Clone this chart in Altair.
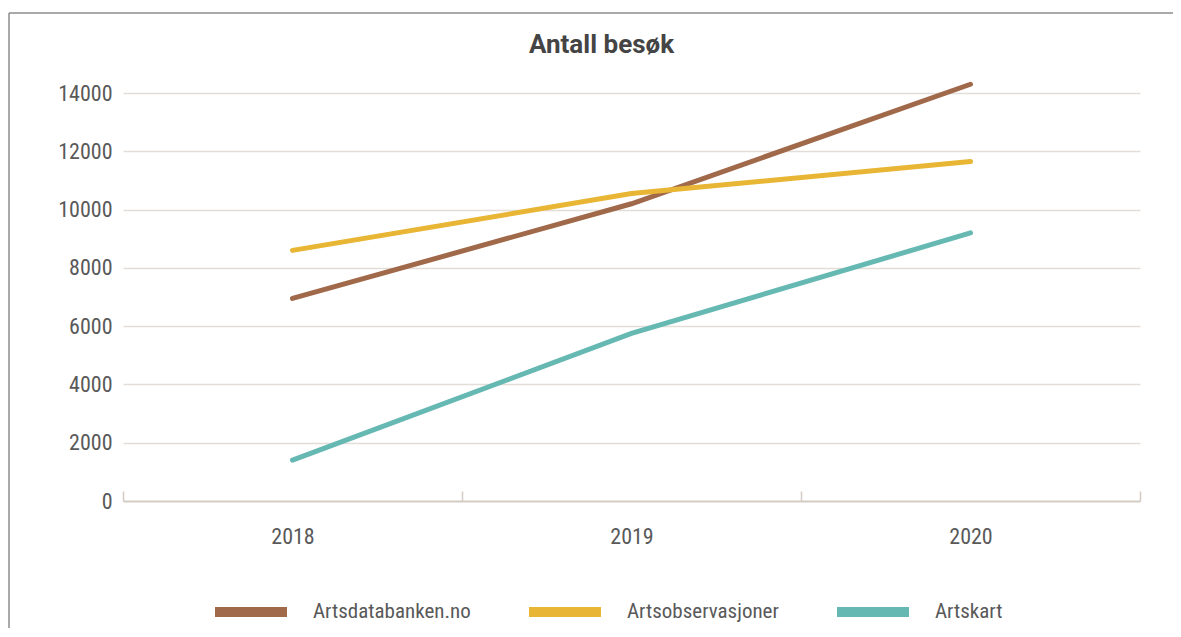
import altair as alt
import pandas as pd

years = ["2018", "2019", "2020"]
series = ["Artsdatabanken.no", "Artsobservasjoner", "Artskart"]
artsdatabanken = [6950, 10200, 14300]
artsobservasjoner = [8600, 10550, 11650]
artskart = [1400, 5750, 9200]
colors = ["#A0694A", "#E8B634", "#66B8B2"]
y_ticks = [0, 2000, 4000, 6000, 8000, 10000, 12000, 14000]

rows = []
for name, vals in zip(series, [artsdatabanken, artsobservasjoner, artskart]):
    for yr, v in zip(years, vals):
        rows.append({"year": yr, "series": name, "value": v})
df = pd.DataFrame(rows)

W, H = 1017, 408
PL, PT, PR, PB = 115, 85, 33, 127
FONT = "Roboto Condensed, Liberation Sans Narrow, Roboto, sans-serif"
TXT = "#595959"

lines = alt.Chart(df).mark_line(strokeWidth=5, strokeCap="round", clip=False).encode(
    x=alt.X("year:N", sort=years, bandPosition=0.5,
            scale=alt.Scale(type="band", paddingInner=0, paddingOuter=0),
            axis=alt.Axis(title=None, offset=-10, domain=False, ticks=True, tickSize=10,
                          tickBand="extent", tickColor="#D3CBC4", tickWidth=1.5,
                          labelFont=FONT, labelFontSize=22, labelColor=TXT,
                          labelPadding=25, labelAngle=0, grid=False)),
    y=alt.Y("value:Q", scale=alt.Scale(domain=[0, 14000], nice=False),
            axis=alt.Axis(title=None, values=y_ticks, format="d", domain=False, ticks=False,
                          labelFont=FONT, labelFontSize=22, labelColor=TXT, labelPadding=11,
                          grid=True,
                          gridColor=alt.condition("datum.value === 0", alt.value("#D3CBC4"), alt.value("#E3DDD8")),
                          gridWidth=alt.condition("datum.value === 0", alt.value(2), alt.value(1.5)))),
    color=alt.Color("series:N", sort=series,
                    scale=alt.Scale(domain=series, range=colors),
                    legend=alt.Legend(title=None, orient="none", legendX=87, legendY=478,
                                      offset=0, direction="horizontal", symbolType="stroke",
                                      symbolSize=5184, symbolStrokeWidth=10,
                                      labelFont=FONT, labelFontSize=21, labelColor=TXT,
                                      labelOffset=21, columnPadding=38, padding=0)),
)

frame_df = pd.DataFrame({"k": [0]})
frame_left = alt.Chart(frame_df).mark_rule(color="#8C8C8C", strokeWidth=1.5, clip=False).encode(
    x=alt.value(-114), y=alt.value(-80), y2=alt.value(H + PB)
)
frame_top = alt.Chart(frame_df).mark_rule(color="#8C8C8C", strokeWidth=1.5, clip=False).encode(
    x=alt.value(-114), x2=alt.value(W + PR), y=alt.value(-80)
)

chart = alt.layer(frame_left, frame_top, lines).properties(
    width=W, height=H,
    title=alt.TitleParams("Antall besøk", font="Roboto", fontSize=26, fontWeight="bold",
                          color="#444444", anchor="middle", dx=-30, offset=-46),
    autosize=alt.AutoSizeParams(type="none"),
    padding={"left": PL, "top": PT, "right": PR, "bottom": PB},
    background="white",
).configure_view(stroke=None)

chart.save("out.html", embed_options={"renderer": "svg", "actions": False})
